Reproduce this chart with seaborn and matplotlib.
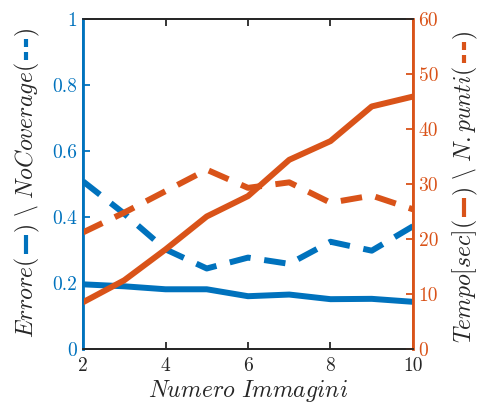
import matplotlib
matplotlib.use("Agg")
import matplotlib.pyplot as plt
from matplotlib.lines import Line2D
import seaborn as sns
import pandas as pd

n_imm = [2, 3, 4, 5, 6, 7, 8, 9, 10]
errore = [0.196, 0.19, 0.181, 0.181, 0.16, 0.165, 0.151, 0.152, 0.143]
no_coverage = [0.508, 0.41, 0.302, 0.244, 0.277, 0.258, 0.325, 0.298, 0.372]
tempo = [8.5, 12.5, 18.1, 24.1, 27.8, 34.4, 37.8, 44.1, 45.9]
n_punti = [21.2, 24.8, 28.7, 32.6, 29.3, 30.3, 26.6, 27.9, 25.4]

left_ticks = [0, 0.2, 0.4, 0.6, 0.8, 1]
left_labels = ["0", "0.2", "0.4", "0.6", "0.8", "1"]
right_ticks = [0, 10, 20, 30, 40, 50, 60]
x_ticks = [2, 4, 6, 8, 10]

BLUE = "#0072BD"
ORANGE = "#D95319"
DARK = "#262626"

sns.set_style("ticks")
plt.rcParams["font.family"] = ["cmr10", "DejaVu Sans"]
plt.rcParams["mathtext.fontset"] = "cm"
plt.rcParams["axes.formatter.use_mathtext"] = True

df = pd.DataFrame({"x": n_imm, "errore": errore, "nocov": no_coverage,
                   "tempo": tempo, "npunti": n_punti})

fig = plt.figure(figsize=(4.79, 4.07), dpi=100)
ax = fig.add_axes([0.1733, 0.1425, 0.6889, 0.8108])
ax2 = ax.twinx()

lw = 4.3
sns.lineplot(data=df, x="x", y="errore", ax=ax, color=BLUE, lw=lw)
sns.lineplot(data=df, x="x", y="nocov", ax=ax, color=BLUE, lw=lw)
ax.lines[-1].set_dashes((3.6, 2.3))
sns.lineplot(data=df, x="x", y="tempo", ax=ax2, color=ORANGE, lw=lw)
sns.lineplot(data=df, x="x", y="npunti", ax=ax2, color=ORANGE, lw=lw)
ax2.lines[-1].set_dashes((3.6, 2.3))

ax.set_xlim(2, 10)
ax.set_ylim(0, 1)
ax2.set_ylim(0, 60)
ax.set_xticks(x_ticks)
ax.set_xticklabels([str(v) for v in x_ticks])
ax.set_yticks(left_ticks)
ax.set_yticklabels(left_labels)
ax2.set_yticks(right_ticks)
ax2.set_yticklabels([str(v) for v in right_ticks])

ax.set_ylabel("")
ax2.set_ylabel("")

for a in (ax, ax2):
    for s in a.spines.values():
        s.set_visible(True)
        s.set_linewidth(1.3)
        s.set_color(DARK)
ax.spines["left"].set_color(BLUE)
ax2.spines["left"].set_color(BLUE)
ax.spines["right"].set_color(ORANGE)
ax2.spines["right"].set_color(ORANGE)
ax.spines["left"].set_linewidth(2.0)
ax2.spines["right"].set_linewidth(2.0)

ax.tick_params(axis="x", direction="in", top=True, bottom=True, colors=DARK,
               labelsize=14, length=5, width=1.3, pad=6)
ax.tick_params(axis="y", direction="in", left=True, right=False, colors=BLUE,
               labelsize=14, length=5, width=1.3, pad=4)
ax2.tick_params(axis="y", direction="in", right=True, left=False, colors=ORANGE,
                labelsize=14, length=5, width=1.3, pad=4)

ax.set_xlabel(r"$Numero\ Immagini$", fontsize=17, color=DARK, labelpad=2)

renderer = fig.canvas.get_renderer()
W, H = fig.bbox.width, fig.bbox.height


def stacked_label(pieces, x_px, y_center_px, fs=17):
    items = []
    for p in pieces:
        if p[0] == "text":
            t = fig.text(0, 0, p[1], rotation=90, rotation_mode="anchor",
                         ha="left", va="baseline", fontsize=fs, color=DARK)
            h = t.get_window_extent(renderer).height
            items.append(("text", t, h))
        else:
            _, color, segs = p
            items.append(("line", (color, segs), sum(segs) + 4))
    total = sum(i[2] for i in items)
    y = (H - y_center_px) - total / 2
    for kind, obj, h in items:
        if kind == "text":
            obj.set_position((x_px / W, y / H))
        else:
            color, segs = obj
            yy = y + 2
            xc = x_px - 7.5
            for k, sl in enumerate(segs):
                if k % 2 == 0:
                    fig.add_artist(Line2D([xc / W, xc / W], [yy / H, (yy + sl) / H],
                                          transform=fig.transFigure, color=color,
                                          lw=3.0, solid_capstyle="butt"))
                yy += sl
        y += h


left_pieces = [
    ("text", r"$Errore($"),
    ("line", BLUE, [19]),
    ("text", r"$)\ \backslash\ NoCoverage($"),
    ("line", BLUE, [8, 5, 8]),
    ("text", r"$)$"),
]
right_pieces = [
    ("text", r"$Tempo[sec]($"),
    ("line", ORANGE, [19]),
    ("text", r"$)\ \backslash\ N.punti($"),
    ("line", ORANGE, [8, 5, 8]),
    ("text", r"$)$"),
]
stacked_label(left_pieces, 33, 183)
stacked_label(right_pieces, 471, 187)

fig.savefig("out.png", dpi=100)
